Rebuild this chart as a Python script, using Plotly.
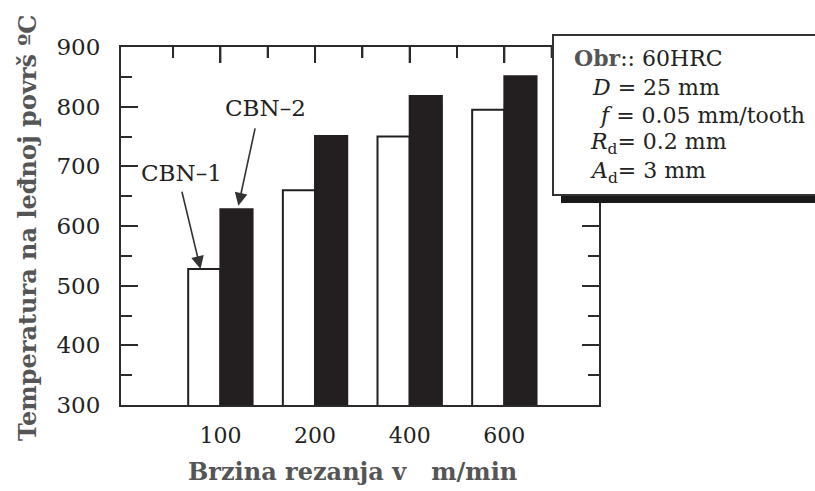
import plotly.graph_objects as go

# ---- data ----
categories = ["100", "200", "400", "600"]          # cutting speed, m/min
cbn1 = [528, 660, 750, 795]                          # CBN-1 temperature
cbn2 = [628, 751, 818, 851]                          # CBN-2 temperature
y_ticks = [300, 400, 500, 600, 700, 800, 900]
info_lines = [
    "<b><span style='color:#555'>Obr</span></b>:: 60HRC",
    "<i>D</i> = 25 mm",
    "<i>f</i> = 0.05 mm/tooth",
    "<i>R</i><sub>d</sub>= 0.2 mm",
    "<i>A</i><sub>d</sub>= 3 mm",
]

pos = list(range(len(categories)))
FONT = "DejaVu Serif"
DARK = "#222222"
BAR = "#231f20"
AX = "#2b2b2b"

# plot-area pixel geometry (815x491 canvas)
L, R, T, B = 121, 599, 47, 405
def xp(px):
    return (px - L) / (R - L)
def yp(py):
    return (B - py) / (B - T)

fig = go.Figure()
fig.add_trace(go.Bar(x=pos, y=cbn1, name="CBN-1", marker=dict(color="white", line=dict(color=BAR, width=2)), showlegend=False))
fig.add_trace(go.Bar(x=pos, y=cbn2, name="CBN-2", marker=dict(color=BAR, line=dict(color=BAR, width=2)), showlegend=False))
# invisible helper trace so the bottom-label axis and right tick axis are drawn
fig.add_trace(go.Scatter(x=pos, y=cbn1, xaxis="x2", yaxis="y2", mode="markers",
                         marker=dict(opacity=0, size=1), showlegend=False, hoverinfo="skip"))

xr = [-1.05, 4.0]
yr = [300, 900]
minor_y = dict(tickmode="linear", tick0=350, dtick=100, ticks="inside", ticklen=11, tickwidth=2, tickcolor=AX)
fig.update_layout(
    width=815, height=491,
    margin=dict(l=L, r=815 - R, t=T, b=491 - B),
    paper_bgcolor="white", plot_bgcolor="white",
    barmode="group", bargap=0.32, bargroupgap=0,
    font=dict(family=FONT, color=DARK, size=23),
    xaxis=dict(range=xr, side="top", tickvals=pos, ticks="inside", ticklen=16, tickwidth=2,
               tickcolor=AX, showticklabels=False, showgrid=False, zeroline=False,
               showline=True, linecolor=AX, linewidth=2, mirror=True,
               minor=dict(tickmode="linear", tick0=-0.5, dtick=1, ticks="inside", ticklen=11,
                          tickwidth=2, tickcolor=AX)),
    xaxis2=dict(range=xr, overlaying="x", side="bottom", anchor="y2", tickvals=pos, ticktext=categories,
                ticks="", showgrid=False, zeroline=False, showline=False,
                ticklabelstandoff=15, tickfont=dict(size=22, color=DARK)),
    yaxis=dict(range=yr, tickvals=y_ticks, ticks="inside", ticklen=17, tickwidth=2,
               tickcolor=AX, showgrid=False, zeroline=False, showline=True,
               linecolor=AX, linewidth=2, mirror=True, ticklabelstandoff=14,
               tickfont=dict(size=23, color=DARK), minor=minor_y),
    yaxis2=dict(range=yr, overlaying="y", side="right", anchor="x2", tickvals=y_ticks, ticks="inside",
                ticklen=17, tickwidth=2, tickcolor=AX, showticklabels=False, showgrid=False,
                zeroline=False, minor=minor_y),
)

# top-edge inward ticks (major at categories, minor halfway between), drawn explicitly
plot_h = B - T
for p in pos:
    fig.add_shape(type="line", xref="x", yref="paper", x0=p, x1=p, y0=1, y1=1 - 16 / plot_h,
                  line=dict(color=AX, width=2), layer="above")
for p in pos + [pos[-1] + 1]:
    fig.add_shape(type="line", xref="x", yref="paper", x0=p - 0.5, x1=p - 0.5, y0=1, y1=1 - 11 / plot_h,
                  line=dict(color=AX, width=2), layer="above")

# inset info box with shadow
fig.add_shape(type="rect", xref="paper", yref="paper", x0=xp(561), x1=xp(840), y0=yp(203), y1=yp(43),
              fillcolor="#1a1a1a", line=dict(width=0), layer="above")
fig.add_shape(type="rect", xref="paper", yref="paper", x0=xp(553), x1=xp(832), y0=yp(195), y1=yp(35),
              fillcolor="white", line=dict(color="#333", width=2), layer="above")

line_x = [572, 590, 597, 588, 588]
line_y = [58, 87, 115, 143, 172]
for txt, lx, ly in zip(info_lines, line_x, line_y):
    fig.add_annotation(text=txt, xref="paper", yref="paper", x=xp(lx), y=yp(ly),
                       xanchor="left", yanchor="middle", showarrow=False,
                       font=dict(family=FONT, size=22, color=DARK))

# series labels with arrows
fig.add_annotation(text="CBN\u20131", x=-0.41, y=689, xref="x", yref="y", showarrow=False,
                   font=dict(size=23, color=DARK))
fig.add_annotation(text="", x=pos[0] - 0.21, y=cbn1[0], ax=-0.41, ay=660, xref="x", yref="y",
                   axref="x", ayref="y", showarrow=True, arrowhead=2, arrowsize=1.6, arrowwidth=1.6,
                   arrowcolor="#333", standoff=0)
fig.add_annotation(text="CBN\u20132", x=0.48, y=798, xref="x", yref="y", showarrow=False,
                   font=dict(size=23, color=DARK))
fig.add_annotation(text="", x=pos[0] + 0.19, y=cbn2[0] + 6, ax=0.37, ay=766, xref="x", yref="y",
                   axref="x", ayref="y", showarrow=True, arrowhead=2, arrowsize=1.6, arrowwidth=1.6,
                   arrowcolor="#333", standoff=0)

# axis titles
fig.add_annotation(text="<b>Brzina rezanja v\u00a0\u00a0\u00a0m/min</b>", xref="paper", yref="paper",
                   x=xp(352), y=yp(472), xanchor="center", yanchor="middle", showarrow=False,
                   font=dict(family=FONT, size=24, color="#555"))
fig.add_annotation(text="<b>Temperatura na leđnoj površ ºC</b>", xref="paper", yref="paper",
                   x=xp(27), y=yp(228), xanchor="center", yanchor="middle", showarrow=False,
                   textangle=-90, font=dict(family=FONT, size=24, color="#555"))

fig.write_html("out.html", config={"displayModeBar": False},
               post_script="document.body.style.margin='0px';")
